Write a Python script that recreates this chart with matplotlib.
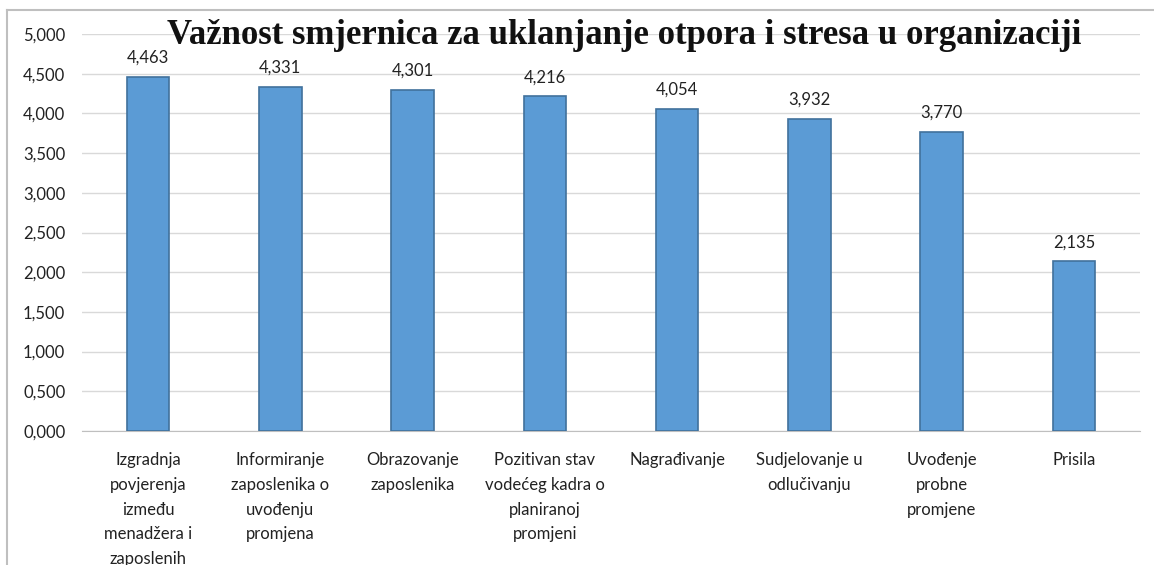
import matplotlib
matplotlib.use("Agg")
import matplotlib.pyplot as plt
from matplotlib.lines import Line2D
from matplotlib.ticker import FuncFormatter, MultipleLocator

title = "Važnost smjernica za uklanjanje otpora i stresa u organizaciji"
categories = [
    "Izgradnja\npovjerenja\nizmeđu\nmenadžera i\nzaposlenih",
    "Informiranje\nzaposlenika o\nuvođenju\npromjena",
    "Obrazovanje\nzaposlenika",
    "Pozitivan stav\nvodećeg kadra o\nplaniranoj\npromjeni",
    "Nagrađivanje",
    "Sudjelovanje u\nodlučivanju",
    "Uvođenje\nprobne\npromjene",
    "Prisila",
]
values = [4.463, 4.331, 4.301, 4.216, 4.054, 3.932, 3.770, 2.135]


def fmt(v):
    return f"{v:.3f}".replace(".", ",")


W, H = 1154, 565
fig = plt.figure(figsize=(W / 100, H / 100), dpi=100)
ax = fig.add_axes([82 / W, 1 - 431 / H, (1140 - 82) / W, (431 - 34) / H])

font = "Lato"
x = list(range(len(categories)))
ax.bar(x, values, width=0.32, color="#5B9BD5", edgecolor="#41719C", linewidth=1.2, zorder=3)
ax.set_xlim(-0.5, len(categories) - 0.5)
ax.set_ylim(0, 5)
ax.yaxis.set_major_locator(MultipleLocator(0.5))
ax.yaxis.set_major_formatter(FuncFormatter(lambda v, p: fmt(v)))
ax.grid(axis="y", color="#D9D9D9", linewidth=1, zorder=0)
for s in ["top", "right", "left"]:
    ax.spines[s].set_visible(False)
ax.spines["bottom"].set_color("#BFBFBF")
ax.tick_params(axis="both", length=0, labelsize=12, labelcolor="#222222")
ax.tick_params(axis="y", pad=12)
ax.tick_params(axis="x", pad=15)
ax.set_xticks(x)
ax.set_xticklabels(categories, fontfamily=font, linespacing=1.68, va="top")
for lab in ax.get_yticklabels():
    lab.set_fontfamily(font)

for xi, v in zip(x, values):
    ax.annotate(fmt(v), (xi, v), xytext=(0, 8), textcoords="offset points",
                ha="center", va="bottom", fontsize=12, fontfamily=font, color="#222222")

fig.text(624 / W, 1 - 36 / H, title, ha="center", va="center", fontsize=25,
         fontweight="bold", fontfamily="Liberation Serif", color="#111111")

# outer chart border (top and left)
fig.add_artist(Line2D([7 / W, 1], [1 - 10 / H, 1 - 10 / H], transform=fig.transFigure,
                      color="#BFBFBF", linewidth=1.5))
fig.add_artist(Line2D([7 / W, 7 / W], [0, 1 - 10 / H], transform=fig.transFigure,
                      color="#BFBFBF", linewidth=1.5))

fig.savefig("out.png", dpi=100)
